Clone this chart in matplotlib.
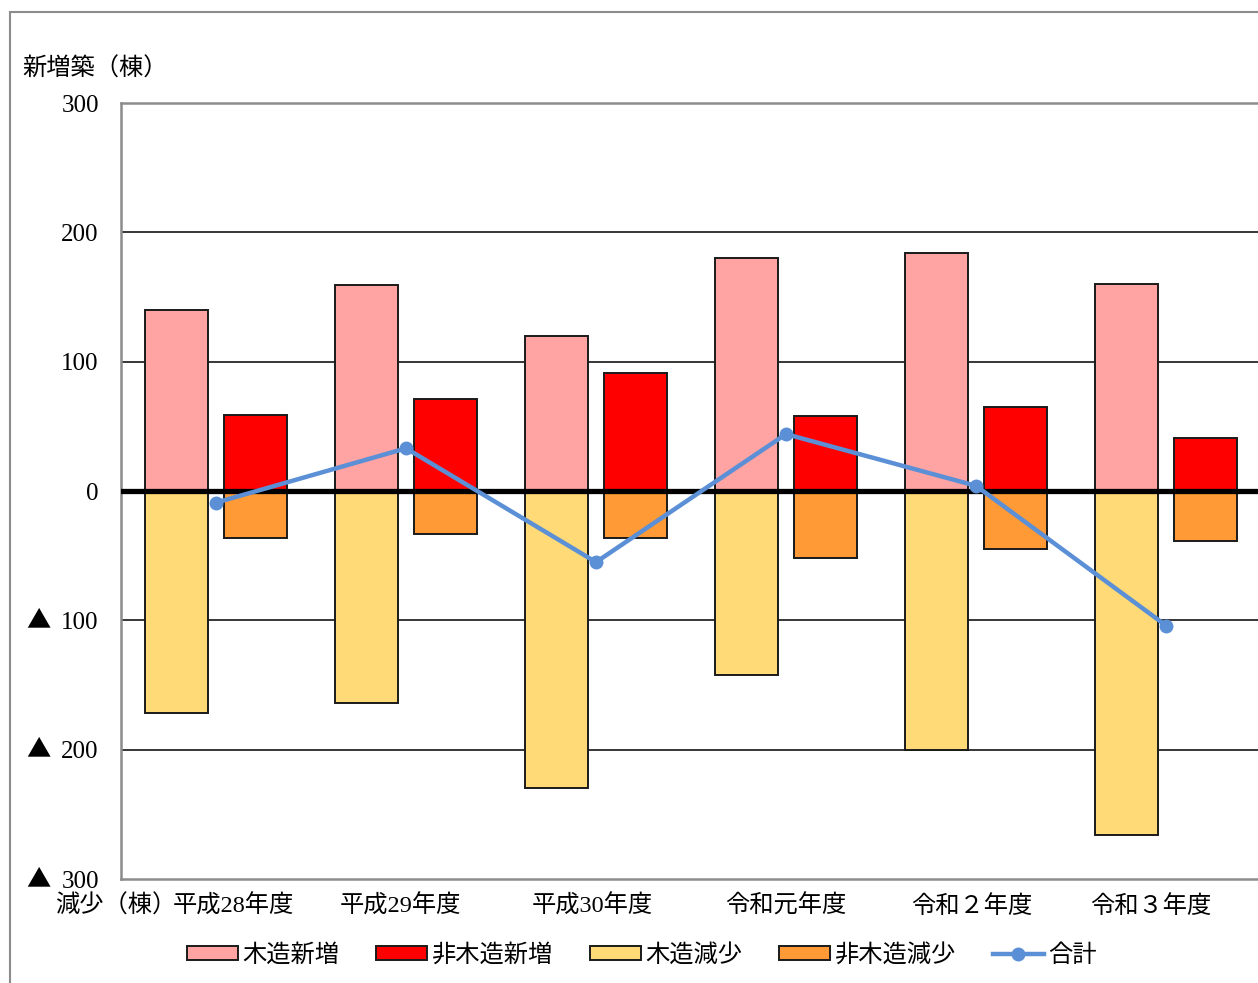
import matplotlib
matplotlib.use("Agg")
import matplotlib.pyplot as plt
import numpy as np
from matplotlib.patches import Rectangle
from matplotlib.lines import Line2D

plt.rcParams['font.family'] = ['Liberation Serif', 'Noto Sans CJK JP', 'DejaVu Sans']

categories = ["平成28年度", "平成29年度", "平成30年度", "令和元年度", "令和２年度", "令和３年度"]
wood_new = [140, 159, 120, 180, 184, 160]
nonwood_new = [59, 71, 91, 58, 65, 41]
wood_loss = [-172, -164, -230, -142, -200, -266]
nonwood_loss = [-36, -33, -36, -52, -45, -39]
total = [a + b + c + d for a, b, c, d in zip(wood_new, nonwood_new, wood_loss, nonwood_loss)]

series_names = ["木造新増", "非木造新増", "木造減少", "非木造減少", "合計"]
colors = ["#FFA3A3", "#FF0000", "#FFDA76", "#FF9A36", "#5B8FD6"]

ytick_vals = [300, 200, 100, 0, -100, -200, -300]
ytick_labels = ["300", "200", "100", "0", "100", "200", "300"]
neg_mark = "▲"

W, H = 1258, 983
FS = 17.5
fig = plt.figure(figsize=(W / 100, H / 100), dpi=100)

# outer chart frame
fig.patches.append(Rectangle((10 / W, -0.05), 1.2, 1 - 12 / H + 0.05,
                             transform=fig.transFigure, fill=False,
                             edgecolor="#8C8C8C", linewidth=1.5, zorder=0))

ax = fig.add_axes([121 / W, 1 - 879 / H, 1140 / W, 776 / H])
x = np.arange(len(categories)) + 0.5
bw = 0.332
off = 0.208
edge = dict(edgecolor="#1a1a1a", linewidth=1.4, zorder=2)
ax.bar(x - off, wood_new, bw, color=colors[0], **edge)
ax.bar(x + off, nonwood_new, bw, color=colors[1], **edge)
ax.bar(x - off, wood_loss, bw, color=colors[2], **edge)
ax.bar(x + off, nonwood_loss, bw, color=colors[3], **edge)

for v in [200, 100, -100, -200]:
    ax.axhline(v, color="black", linewidth=1.1, zorder=1)
ax.axhline(0, color="black", linewidth=3.8, zorder=3)

ax.plot(x, total, color=colors[4], linewidth=3.2, marker="o", markersize=9,
        zorder=4, solid_capstyle="round")

ax.set_xlim(0, len(categories))
ax.set_ylim(-300, 300)
ax.set_yticks(ytick_vals)
ax.set_yticklabels(ytick_labels, fontsize=18)
ax.tick_params(axis="y", length=0, pad=16)
ax.set_xticks([])
for sp in ax.spines.values():
    sp.set_color("#8C8C8C")
    sp.set_linewidth(1.8)

# negative-value markers in front of the lower tick labels
for v in ytick_vals:
    if v < 0:
        ax.text(38 / W, v, neg_mark, transform=ax.get_yaxis_transform().__class__(
            fig.transFigure, ax.transData), ha="center", va="center",
            fontsize=FS, family=['Noto Sans CJK JP'])

# category labels
label_shift = [0.09, -0.03, -0.02, 0.0, -0.02, -0.08]
for xi, s, lab in zip(x, label_shift, categories):
    ax.text(xi + s, -321, lab, ha="center", va="center", fontsize=FS,
            transform=ax.transData, clip_on=False)

fig.text(22 / W, 1 - 69 / H, "新増築（棟）", ha="left", va="center", fontsize=FS)
fig.text(55 / W, 1 - 906 / H, "減少（棟）", ha="left", va="center", fontsize=FS)

handles = [Rectangle((0, 0), 1, 1, facecolor=c, edgecolor="#1a1a1a", linewidth=1.4)
           for c in colors[:4]]
handles.append(Line2D([], [], color=colors[4], linewidth=3.2, marker="o", markersize=9))
fig.legend(handles, series_names, loc="center", bbox_to_anchor=(642 / W, 1 - 955 / H),
           ncol=5, frameon=False, handlelength=2.1, handleheight=0.5,
           handletextpad=0.2, columnspacing=1.5,
           prop={'family': ['Noto Sans CJK JP'], 'size': FS})

fig.savefig("out.png", dpi=100)
